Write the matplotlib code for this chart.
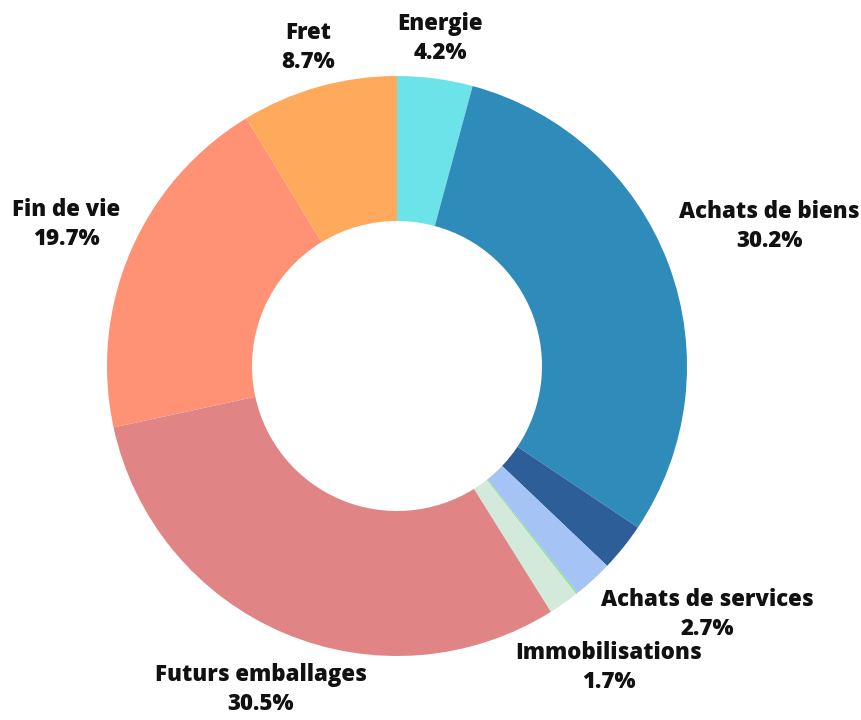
import numpy as np
import matplotlib.pyplot as plt

# slices, clockwise from 12 o'clock (two small unlabeled slices have no label)
labels = ["Energie", "Achats de biens", "Achats de services", "", "",
          "Immobilisations", "Futurs emballages", "Fin de vie", "Fret"]
values = [4.2, 30.2, 2.7, 2.2, 0.1, 1.7, 30.5, 19.7, 8.7]
colors = ["#6be3e8", "#2e8bba", "#2d5e98", "#a5c3f5", "#8fe08f",
          "#d3e9d9", "#e08485", "#ff9174", "#fea95b"]
# distance of each label centre from the pie centre (in radii)
label_dist = [1.14, 1.37, 1.37, 0, 0, 1.27, 1.21, 1.24, 1.14]

plt.rcParams['font.family'] = ['Open Sans', 'DejaVu Sans']

fig = plt.figure(figsize=(8.62, 7.2), dpi=100)
ax = fig.add_axes([0, 0, 1, 1])

wedges, _ = ax.pie(values, colors=colors, startangle=90, counterclock=False,
                   radius=1.0, wedgeprops=dict(width=0.5, linewidth=0))
ax.set_aspect('auto')
ax.set_xlim(-397 / 290, (862 - 397) / 290)
ax.set_ylim(-354 / 290, 366 / 290)
ax.axis('off')

total = sum(values)
cum = 0
for lab, v, d in zip(labels, values, label_dist):
    mid = (cum + v / 2) / total * 2 * np.pi
    cum += v
    if not lab:
        continue
    x = d * np.sin(mid)
    y = d * np.cos(mid)
    ax.text(x, y, f"{lab}\n{v:.1f}%", ha='center', va='center',
            fontsize=16, fontweight='heavy', linespacing=1.3, color='#111111')

fig.savefig("out.png", dpi=100)
